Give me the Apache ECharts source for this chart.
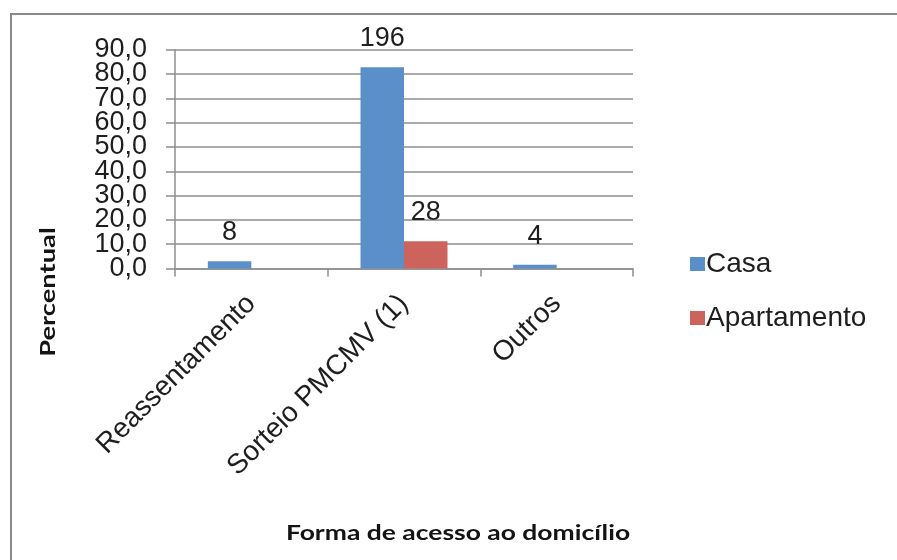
<!DOCTYPE html>
<html>
<head>
<meta charset="utf-8">
<script src="https://cdn.jsdelivr.net/npm/echarts@6/dist/echarts.min.js"></script>
<style>
  html, body { margin: 0; padding: 0; background: #ffffff; }
  #chart { width: 897px; height: 560px; }
</style>
</head>
<body>
<div id="chart"></div>
<script>
// Forma de acesso ao domicílio: percentual por tipo de moradia
const categories = ['Reassentamento', 'Sorteio PMCMV (1)', 'Outros'];
const casaPercent = [3.0, 82.8, 1.5];
const apartamentoPercent = ['-', 11.2, '-'];
// Número de domicílios exibido sobre cada barra
const casaCount = [8, 196, 4];
const apartamentoCount = [null, 28, null];
// Escala percentual e rótulos do eixo vertical (vírgula decimal)
const yTicks = { min: 0, max: 90, interval: 10 };
const yTickLabels = ['0,0', '10,0', '20,0', '30,0', '40,0', '50,0', '60,0', '70,0', '80,0', '90,0'];

const FONT = '"Liberation Sans", Arial, sans-serif';
const TITLE_FONT = 'Lato, "Open Sans", sans-serif';
const TEXT_COLOR = '#1e1e1e';
const GRID_COLOR = '#8e8e8e';

const chart = echarts.init(document.getElementById('chart'), null, { renderer: 'canvas' });

function countLabel(counts) {
  return {
    show: true,
    position: 'top',
    distance: 15,
    fontFamily: FONT,
    fontSize: 27,
    color: TEXT_COLOR,
    formatter: p => counts[p.dataIndex] == null ? '' : String(counts[p.dataIndex])
  };
}

chart.setOption({
  animation: false,
  backgroundColor: '#ffffff',
  grid: { left: 175, right: 264, top: 49.7, bottom: 291.5, containLabel: false },
  legend: {
    orient: 'vertical',
    left: 685,
    top: 245,
    itemWidth: 15,
    itemHeight: 14,
    itemGap: 26,
    itemStyle: { borderWidth: 0 },
    icon: 'rect',
    textStyle: { fontFamily: FONT, fontSize: 28, color: TEXT_COLOR, padding: [0, 0, 0, -4] },
    data: ['Casa', 'Apartamento']
  },
  xAxis: {
    type: 'category',
    data: categories,
    axisLine: { show: true, lineStyle: { color: GRID_COLOR, width: 1.5 } },
    axisTick: { show: true, length: 8, lineStyle: { color: GRID_COLOR, width: 1.5 } },
    axisLabel: {
      rotate: 45,
      margin: 31,
      interval: 0,
      fontFamily: FONT,
      fontSize: 28,
      color: TEXT_COLOR
    },
    splitLine: { show: false }
  },
  yAxis: [
    {
      // value scale: bars, gridlines, axis line and ticks
      type: 'value',
      min: yTicks.min,
      max: yTicks.max,
      interval: yTicks.interval,
      axisLine: { show: true, lineStyle: { color: GRID_COLOR, width: 1.5 } },
      axisTick: { show: true, length: 9, lineStyle: { color: GRID_COLOR, width: 1.5 } },
      axisLabel: { show: false },
      splitLine: { show: true, lineStyle: { color: GRID_COLOR, width: 1.5 } }
    },
    {
      // tick text, one label per gridline so none is dropped when they touch
      type: 'category',
      data: yTickLabels,
      boundaryGap: false,
      position: 'left',
      axisLine: { show: false },
      axisTick: { show: false },
      splitLine: { show: false },
      axisLabel: {
        interval: 0,
        margin: 28,
        fontFamily: FONT,
        fontSize: 27,
        color: TEXT_COLOR
      }
    }
  ],
  series: [
    {
      name: 'Casa',
      type: 'bar',
      data: casaPercent,
      barWidth: 43.5,
      barGap: '0%',
      itemStyle: { color: '#5b8fc9' },
      label: countLabel(casaCount)
    },
    {
      name: 'Apartamento',
      type: 'bar',
      data: apartamentoPercent,
      barWidth: 43.5,
      barGap: '0%',
      itemStyle: { color: '#cc635d' },
      label: countLabel(apartamentoCount)
    }
  ],
  graphic: [
    {
      type: 'rect',
      silent: true,
      shape: { x: 11, y: 14, width: 900, height: 600 },
      style: { fill: 'none', stroke: '#8a8a8a', lineWidth: 2 }
    },
    {
      type: 'text',
      silent: true,
      x: 48,
      y: 292,
      rotation: Math.PI / 2,
      scaleX: 1.3,
      style: {
        text: 'Percentual',
        fontFamily: TITLE_FONT,
        fontWeight: 'bold',
        fontSize: 21,
        fill: '#141414',
        textAlign: 'center',
        textVerticalAlign: 'middle'
      }
    },
    {
      type: 'text',
      silent: true,
      x: 458,
      y: 533,
      scaleX: 1.26,
      style: {
        text: 'Forma de acesso ao domicílio',
        fontFamily: TITLE_FONT,
        fontWeight: 'bold',
        fontSize: 21,
        fill: '#141414',
        textAlign: 'center',
        textVerticalAlign: 'middle'
      }
    }
  ]
});
</script>
</body>
</html>
